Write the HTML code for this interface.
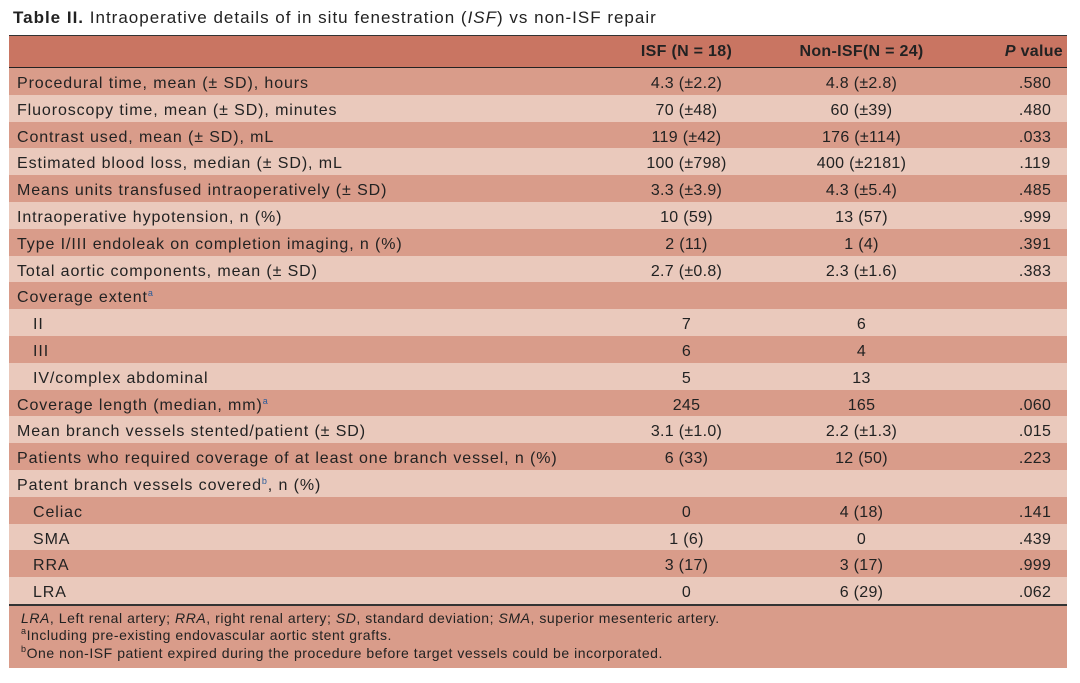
<!DOCTYPE html>
<html><head><style>
body{margin:0;background:#fff;width:1080px;height:683px;font-family:"Liberation Sans","DejaVu Sans",sans-serif;color:#222;position:relative;overflow:hidden;}
.title{position:absolute;left:13px;top:8px;font-size:17px;letter-spacing:1px;}
.hdr{position:absolute;left:9px;top:35px;width:1058px;height:31px;background:#c97562;border-top:1.5px solid #333;border-bottom:2px solid #222;font-weight:bold;font-size:16px;letter-spacing:0.5px;}
.r{position:absolute;left:9px;width:1058px;height:27px;font-size:16px;line-height:31px;}
.o{background:#d99c8a;}
.e{background:#eac9bc;}
.a,.b,.c,.d{position:absolute;top:0;white-space:nowrap;}
.a{left:8px;letter-spacing:0.9px;}
.a.i{left:24px;}
.b,.c,.d{letter-spacing:0.3px;}
.b{left:590px;width:175px;text-align:center;}
.c{left:765px;width:175px;text-align:center;}
.d{left:998px;width:56px;text-align:center;}
.hdr .b,.hdr .c,.hdr .d{line-height:31px;}
.hdr .d{left:940px;width:114px;text-align:right;}
.line{position:absolute;left:9px;top:604px;width:1058px;height:1.5px;background:#333;}
.foot{position:absolute;left:9px;top:605.5px;width:1046px;height:58px;background:#d99c8a;font-size:14px;letter-spacing:0.55px;padding:4px 0 0 12px;line-height:17.5px;}
sup{font-size:9px;color:#2a5b9a;line-height:0;vertical-align:6px;}
.foot sup{color:#222;}
</style></head><body>
<div class="title"><b>Table II.</b> Intraoperative details of in situ fenestration (<i>ISF</i>) vs non-ISF repair</div>
<div class="hdr"><span class="b">ISF (N = 18)</span><span class="c">Non-ISF(N = 24)</span><span class="d"><i>P</i> value</span></div>
<div class="r o" style="top:68px"><span class="a">Procedural time, mean (± SD), hours</span><span class="b">4.3 (±2.2)</span><span class="c">4.8 (±2.8)</span><span class="d">.580</span></div>
<div class="r e" style="top:94.8px"><span class="a">Fluoroscopy time, mean (± SD), minutes</span><span class="b">70 (±48)</span><span class="c">60 (±39)</span><span class="d">.480</span></div>
<div class="r o" style="top:121.6px"><span class="a">Contrast used, mean (± SD), mL</span><span class="b">119 (±42)</span><span class="c">176 (±114)</span><span class="d">.033</span></div>
<div class="r e" style="top:148.4px"><span class="a">Estimated blood loss, median (± SD), mL</span><span class="b">100 (±798)</span><span class="c">400 (±2181)</span><span class="d">.119</span></div>
<div class="r o" style="top:175.2px"><span class="a">Means units transfused intraoperatively (± SD)</span><span class="b">3.3 (±3.9)</span><span class="c">4.3 (±5.4)</span><span class="d">.485</span></div>
<div class="r e" style="top:202px"><span class="a">Intraoperative hypotension, n (%)</span><span class="b">10 (59)</span><span class="c">13 (57)</span><span class="d">.999</span></div>
<div class="r o" style="top:228.8px"><span class="a">Type I/III endoleak on completion imaging, n (%)</span><span class="b">2 (11)</span><span class="c">1 (4)</span><span class="d">.391</span></div>
<div class="r e" style="top:255.6px"><span class="a">Total aortic components, mean (± SD)</span><span class="b">2.7 (±0.8)</span><span class="c">2.3 (±1.6)</span><span class="d">.383</span></div>
<div class="r o" style="top:282.4px"><span class="a">Coverage extent<sup>a</sup></span></div>
<div class="r e" style="top:309.2px"><span class="a i">II</span><span class="b">7</span><span class="c">6</span></div>
<div class="r o" style="top:336px"><span class="a i">III</span><span class="b">6</span><span class="c">4</span></div>
<div class="r e" style="top:362.8px"><span class="a i">IV/complex abdominal</span><span class="b">5</span><span class="c">13</span></div>
<div class="r o" style="top:389.6px"><span class="a">Coverage length (median, mm)<sup>a</sup></span><span class="b">245</span><span class="c">165</span><span class="d">.060</span></div>
<div class="r e" style="top:416.4px"><span class="a">Mean branch vessels stented/patient (± SD)</span><span class="b">3.1 (±1.0)</span><span class="c">2.2 (±1.3)</span><span class="d">.015</span></div>
<div class="r o" style="top:443.2px"><span class="a">Patients who required coverage of at least one branch vessel, n (%)</span><span class="b">6 (33)</span><span class="c">12 (50)</span><span class="d">.223</span></div>
<div class="r e" style="top:470px"><span class="a">Patent branch vessels covered<sup>b</sup>, n (%)</span></div>
<div class="r o" style="top:496.8px"><span class="a i">Celiac</span><span class="b">0</span><span class="c">4 (18)</span><span class="d">.141</span></div>
<div class="r e" style="top:523.6px"><span class="a i">SMA</span><span class="b">1 (6)</span><span class="c">0</span><span class="d">.439</span></div>
<div class="r o" style="top:550.4px"><span class="a i">RRA</span><span class="b">3 (17)</span><span class="c">3 (17)</span><span class="d">.999</span></div>
<div class="r e" style="top:577.2px"><span class="a i">LRA</span><span class="b">0</span><span class="c">6 (29)</span><span class="d">.062</span></div>
<div class="line"></div>
<div class="foot"><i>LRA</i>, Left renal artery; <i>RRA</i>, right renal artery; <i>SD</i>, standard deviation; <i>SMA</i>, superior mesenteric artery.<br><sup>a</sup>Including pre-existing endovascular aortic stent grafts.<br><sup>b</sup>One non-ISF patient expired during the procedure before target vessels could be incorporated.</div>
</body></html>
